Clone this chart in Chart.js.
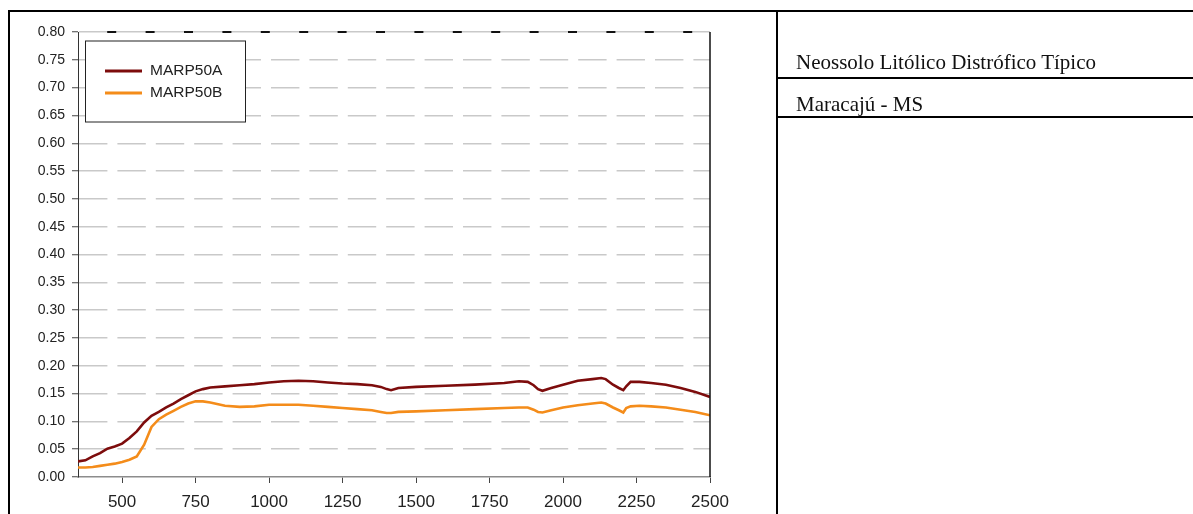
<!DOCTYPE html>
<html>
<head>
<meta charset="utf-8">
<script src="https://cdn.jsdelivr.net/npm/chart.js@4/dist/chart.umd.min.js"></script>
<style>
  html, body { margin: 0; padding: 0; background: #fff; }
  #wrap { position: relative; width: 1193px; height: 514px; overflow: hidden; }
  #chart { position: absolute; left: 0; top: 0; }
  .rule { position: absolute; background: #000; }
  .note { position: absolute; left: 796px; font-family: "Liberation Serif", "Times New Roman", serif;
          font-size: 21px; line-height: 21px; color: #111; white-space: nowrap; }
</style>
</head>
<body>
<div id="wrap">
  <canvas id="chart" width="1193" height="514"></canvas>
  <div class="rule" style="left:8px; top:10px; width:1185px; height:2px;"></div>
  <div class="rule" style="left:8px; top:10px; width:2px; height:504px;"></div>
  <div class="rule" style="left:776px; top:10px; width:2px; height:504px;"></div>
  <div class="rule" style="left:776px; top:77px; width:417px; height:2px;"></div>
  <div class="rule" style="left:776px; top:116px; width:417px; height:2px;"></div>
  <div class="note" style="top:52px;">Neossolo Litólico Distrófico Típico</div>
  <div class="note" style="top:94px;">Maracajú - MS</div>
</div>
<script>
// Wavelength (nm) and reflectance factor for the two samples
const wavelengths = [350, 375, 400, 425, 450, 475, 500, 525, 550, 575, 600, 625, 650, 675, 700, 725, 750, 775, 800,
  850, 900, 950, 1000, 1050, 1100, 1150, 1200, 1250, 1300, 1350, 1380, 1400, 1415, 1440, 1500, 1600, 1700, 1800,
  1850, 1880, 1900, 1915, 1930, 1960, 2000, 2050, 2100, 2130, 2145, 2170, 2190, 2205, 2215, 2230, 2260, 2300,
  2350, 2400, 2450, 2500];

const marp50A = [0.028, 0.030, 0.037, 0.043, 0.051, 0.055, 0.060, 0.070, 0.082, 0.098, 0.110, 0.117, 0.125, 0.132,
  0.140, 0.147, 0.154, 0.158, 0.161, 0.163, 0.165, 0.167, 0.170, 0.172, 0.173, 0.172, 0.170, 0.168, 0.167, 0.165,
  0.162, 0.158, 0.156, 0.160, 0.162, 0.164, 0.166, 0.169, 0.172, 0.171, 0.165, 0.158, 0.155, 0.160, 0.166, 0.173,
  0.176, 0.178, 0.176, 0.166, 0.160, 0.156, 0.163, 0.171, 0.171, 0.169, 0.166, 0.160, 0.153, 0.144];

const marp50B = [0.017, 0.017, 0.018, 0.020, 0.022, 0.024, 0.027, 0.031, 0.037, 0.058, 0.090, 0.104, 0.112, 0.119,
  0.126, 0.132, 0.136, 0.136, 0.134, 0.128, 0.126, 0.127, 0.130, 0.130, 0.130, 0.128, 0.126, 0.124, 0.122, 0.120,
  0.117, 0.115, 0.115, 0.117, 0.118, 0.120, 0.122, 0.124, 0.125, 0.125, 0.121, 0.117, 0.116, 0.120, 0.125, 0.129,
  0.132, 0.134, 0.132, 0.125, 0.120, 0.116, 0.124, 0.127, 0.128, 0.127, 0.125, 0.121, 0.117, 0.111];

const seriesNames = ['MARP50A', 'MARP50B'];
const seriesColors = ['#7d0c0c', '#f48c1a'];

const xTicks = [500, 750, 1000, 1250, 1500, 1750, 2000, 2250, 2500];
const yTicks = [0, 0.05, 0.10, 0.15, 0.20, 0.25, 0.30, 0.35, 0.40, 0.45, 0.50, 0.55, 0.60, 0.65, 0.70, 0.75, 0.80];

const toPoints = vals => wavelengths.map((w, i) => ({ x: w, y: vals[i] }));

// Boxed legend inside the plot, plus the black top/right frame of the plot area
const framePlugin = {
  id: 'frame',
  afterDraw(chart) {
    const { ctx, chartArea: a, scales } = chart;
    ctx.save();
    // right edge
    ctx.strokeStyle = '#111';
    ctx.lineWidth = 1.5;
    ctx.beginPath();
    ctx.moveTo(a.right, a.top);
    ctx.lineTo(a.right, a.bottom);
    ctx.stroke();
    // dark segments along the top line
    const yTop = scales.y.getPixelForValue(0.8);
    ctx.setLineDash([9, 29.4]);
    ctx.lineDashOffset = -29.2;
    ctx.lineWidth = 1.8;
    ctx.beginPath();
    ctx.moveTo(a.left, yTop);
    ctx.lineTo(a.right, yTop);
    ctx.stroke();
    ctx.setLineDash([]);

    // legend box
    const bx = 85.5, by = 41, bw = 160, bh = 81;
    ctx.fillStyle = '#fff';
    ctx.fillRect(bx, by, bw, bh);
    ctx.strokeStyle = '#222';
    ctx.lineWidth = 1;
    ctx.strokeRect(bx, by, bw, bh);
    ctx.font = '15.5px "Liberation Sans", Arial, sans-serif';
    ctx.textBaseline = 'middle';
    ctx.textAlign = 'left';
    chart.data.datasets.forEach((ds, i) => {
      const ly = 71 + i * 22;
      ctx.strokeStyle = ds.borderColor;
      ctx.lineWidth = 3;
      ctx.beginPath();
      ctx.moveTo(105, ly);
      ctx.lineTo(142, ly);
      ctx.stroke();
      ctx.fillStyle = '#222';
      ctx.fillText(ds.label, 150, ly);
    });
    ctx.restore();
  }
};

new Chart(document.getElementById('chart'), {
  type: 'line',
  data: {
    datasets: [
      { label: seriesNames[0], data: toPoints(marp50A), borderColor: seriesColors[0], borderWidth: 2.6,
        pointRadius: 0, tension: 0, fill: false },
      { label: seriesNames[1], data: toPoints(marp50B), borderColor: seriesColors[1], borderWidth: 2.6,
        pointRadius: 0, tension: 0, fill: false }
    ]
  },
  options: {
    responsive: false,
    devicePixelRatio: 1,
    animation: false,
    layout: { padding: { left: 0, top: 32, right: 483, bottom: 0 } },
    plugins: { legend: { display: false }, tooltip: { enabled: false } },
    scales: {
      x: {
        type: 'linear',
        min: 350,
        max: 2500,
        afterBuildTicks: s => { s.ticks = xTicks.map(v => ({ value: v })); },
        afterFit: s => { s.height = 37; },
        grid: { drawOnChartArea: false, drawTicks: true, tickLength: 6, tickColor: '#444', tickWidth: 1 },
        border: { display: true, color: '#8c8c8c', width: 1.5 },
        ticks: { color: '#222', padding: 9, maxRotation: 0, autoSkip: false,
                 font: { family: '"Liberation Sans", Arial, sans-serif', size: 17 },
                 callback: v => String(v) }
      },
      y: {
        type: 'linear',
        min: 0,
        max: 0.8,
        afterBuildTicks: s => { s.ticks = yTicks.map(v => ({ value: v })); },
        afterFit: s => { s.width = 78; },
        grid: {
          drawTicks: true,
          tickLength: 6,
          tickColor: '#444',
          tickWidth: 1,
          lineWidth: 1.5,
          color: ctx => (ctx.tick && ctx.tick.value === 0) ? 'rgba(0,0,0,0)' : '#c9c9c9'
        },
        border: {
          display: true,
          color: '#333',
          width: 1,
          dash: ctx => (ctx.tick && Math.abs(ctx.tick.value - 0.8) < 1e-9) ? [] : [28.4, 10]
        },
        ticks: { color: '#222', padding: 7, autoSkip: false,
                 font: { family: '"Liberation Sans", Arial, sans-serif', size: 14 },
                 callback: v => Number(v).toFixed(2) }
      }
    }
  },
  plugins: [framePlugin]
});
</script>
</body>
</html>
